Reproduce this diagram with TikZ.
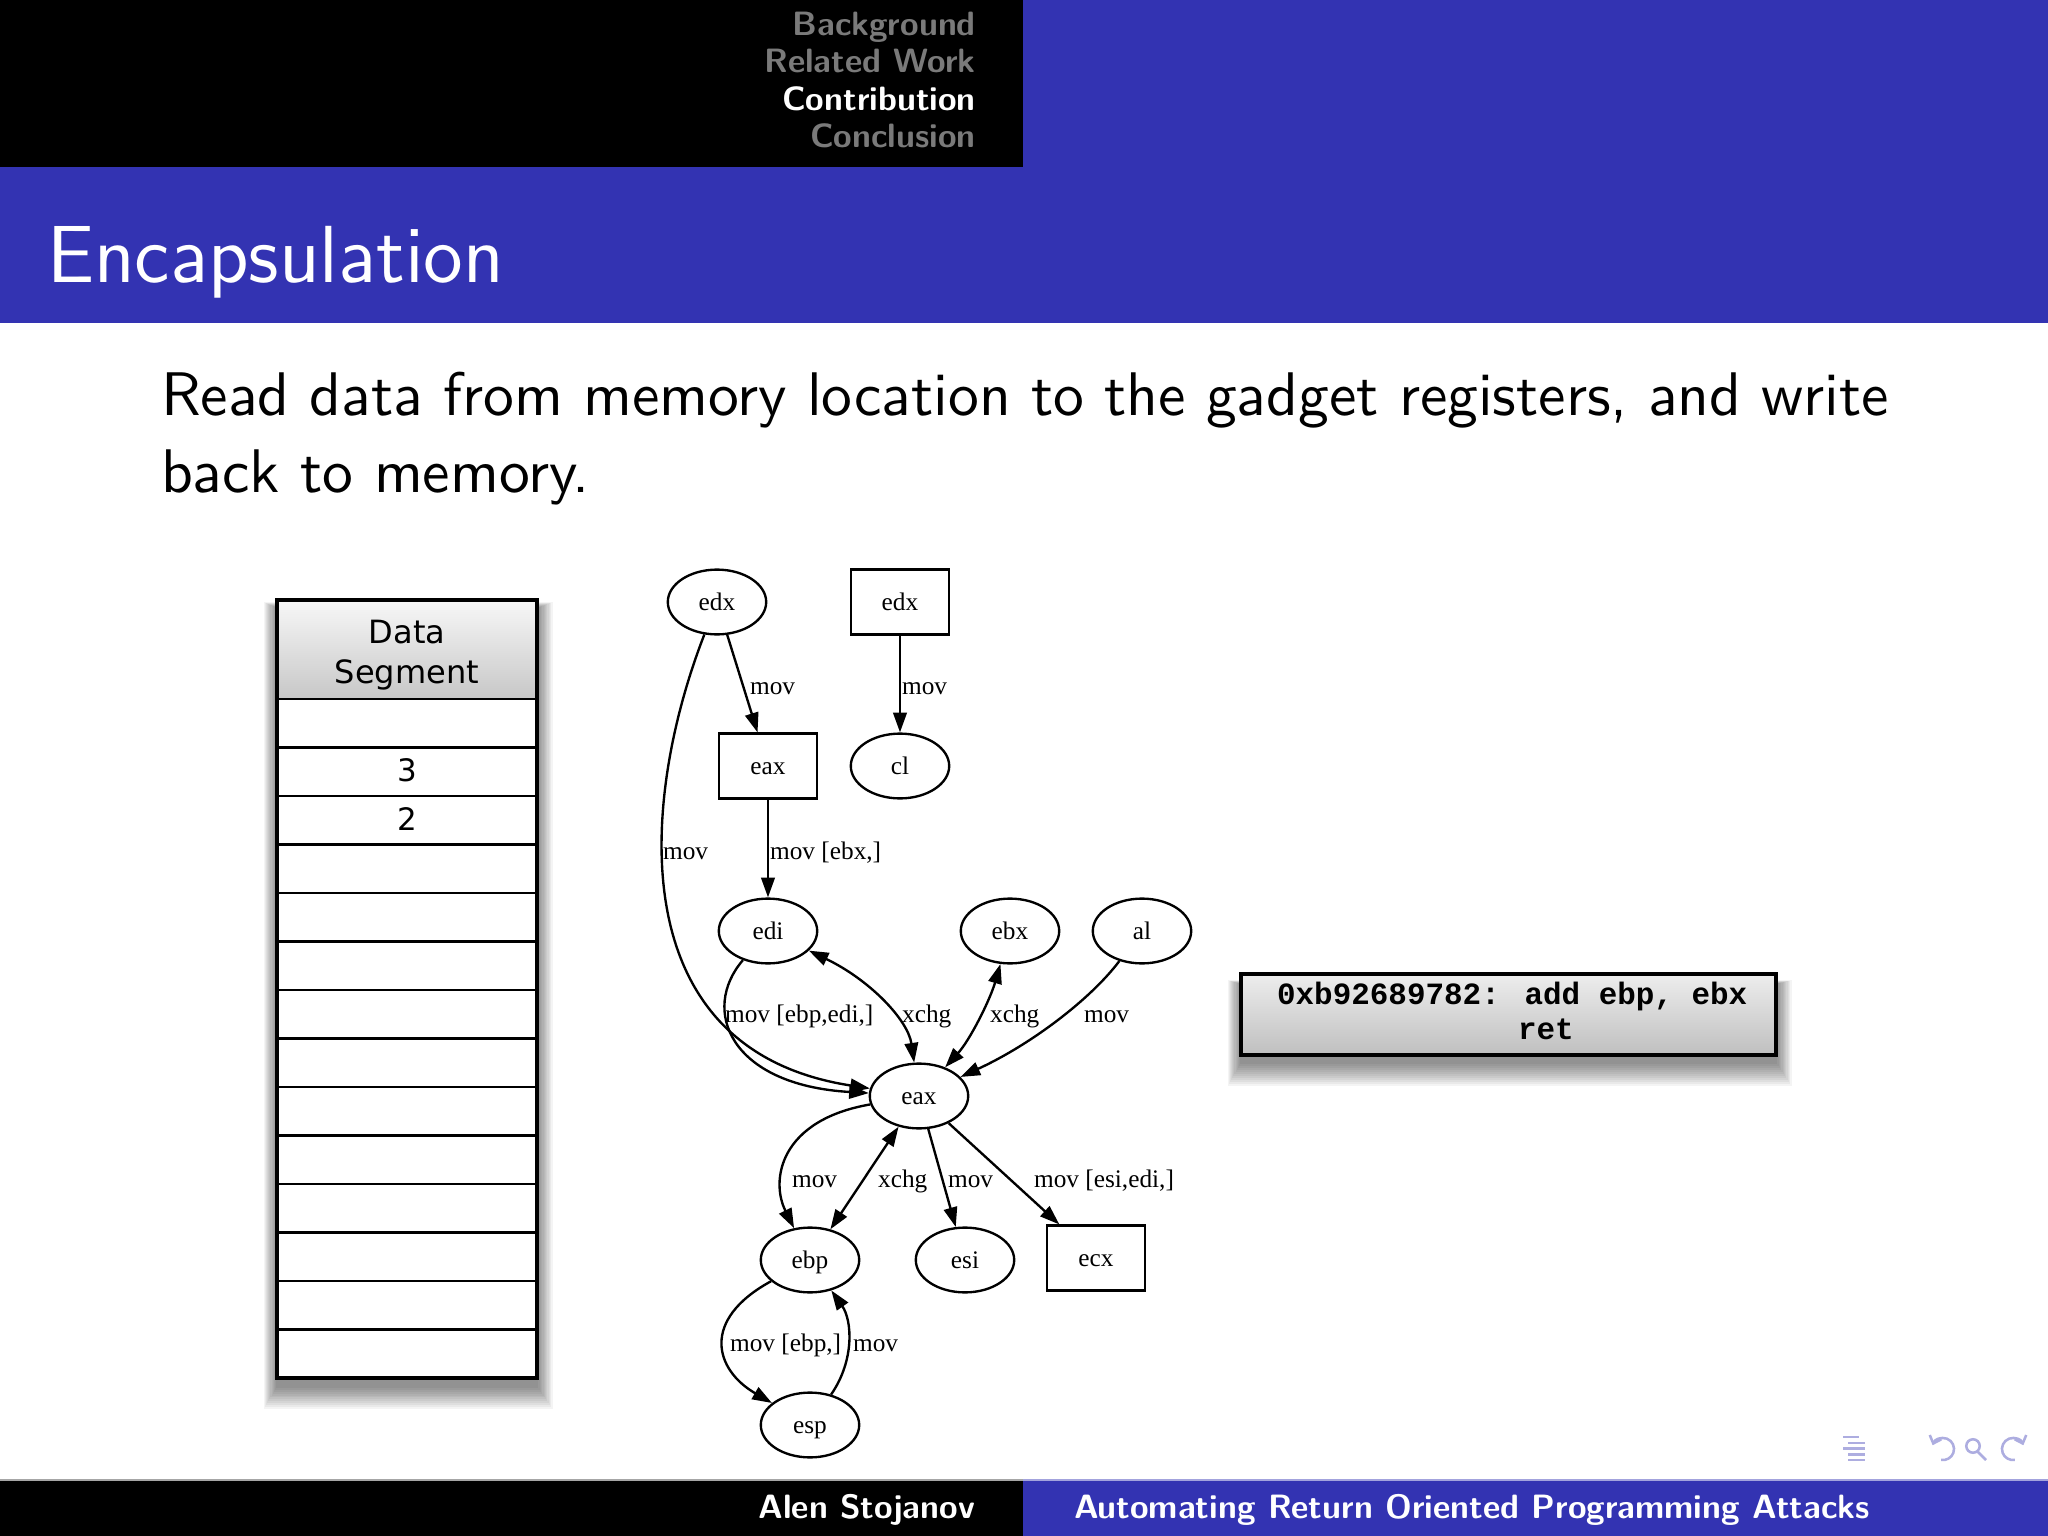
\documentclass[tikz,border=0pt]{standalone}
\usepackage{fontspec}
\usepackage{tikz}
\usetikzlibrary{arrows.meta,shapes.geometric}
\newfontfamily\graphfont{Liberation Serif}
\newfontfamily\segfont{DejaVu Sans}
\newfontfamily\codefont{Liberation Mono}
\definecolor{bmblue}{rgb}{0.2,0.2,0.7}
\newcommand{\gsize}{\fontsize{4.5}{5}\selectfont}

\tikzset{
  reg/.style={ellipse, draw, line width=0.42pt, minimum width=6.15mm, minimum height=4.05mm,
    inner sep=0pt, text height=3.5pt, text depth=0.5pt, font=\graphfont\gsize},
  regbox/.style={rectangle, draw, line width=0.42pt, minimum width=6.15mm, minimum height=4.05mm,
    inner sep=0pt, text height=3.5pt, text depth=0.5pt, font=\graphfont\gsize},
  lbl/.style={anchor=west, inner sep=0pt, text height=3.5pt, text depth=0.6pt, font=\graphfont\gsize},
  edge/.style={line width=0.42pt, -{Triangle[length=3.5pt,width=2.4pt]}},
  xedge/.style={line width=0.42pt, {Triangle[length=3.5pt,width=2.4pt]}-{Triangle[length=3.5pt,width=2.4pt]}},
  secname/.style={inner sep=0pt, font=\fontsize{6}{7}\selectfont\sffamily\bfseries},
  cell/.style={inner sep=0pt, font=\segfont\fontsize{5.5}{6.5}\selectfont},
  codetxt/.style={inner sep=0pt, anchor=base west, font=\codefont\bfseries\fontsize{5.5}{6.2}\selectfont},
  navc/.style={draw=bmblue!40, line width=0.45pt},
}

\begin{document}
\begin{tikzpicture}[x=0.0625mm, y=-0.0625mm]
  \useasboundingbox (0,0) rectangle (2048,1536);
  \fill[white] (0,0) rectangle (2048,1536);

  % headline and frame title
  \fill[bmblue] (0,0) rectangle (2048,323);
  \fill[black] (0,0) rectangle (1023,167);
  \node[secname, anchor=base east, text=white!48!black] (secBg) at (977,35) {Background};
  \node[secname, anchor=base east, text=white!48!black] (secRw) at (977,72.5) {Related Work};
  \node[secname, anchor=base east, text=white] (secCo) at (977,110) {Contribution};
  \node[secname, anchor=base east, text=white!48!black] (secCl) at (977,148) {Conclusion};
  \node[anchor=base west, inner sep=0pt, text=white, font=\fontsize{14.4}{17}\selectfont\sffamily]
    (title) at (46,282) {Encapsulation};

  % body text
  \node[anchor=base west, inner sep=0pt, font=\fontsize{10.95}{13.6}\selectfont\sffamily] (lineA) at (160,415)
    {\makebox[108mm][s]{Read data from memory location to the gadget registers, and write}};
  \node[anchor=base west, inner sep=0pt, font=\fontsize{10.95}{13.6}\selectfont\sffamily] (lineB) at (160,492)
    {back to memory.};

  % data segment: blurred shadow, header, rows
  \foreach \k in {1,...,12}
    \fill[black, opacity=0.045] (277-\k*1.1,608-\k*0.5) rectangle (537+\k*1.3,1386+\k*1.9);
  \shade[top color=gray!6, bottom color=gray!44] (277,600) rectangle (537,699);
  \fill[white] (277,699) rectangle (537,1378);
  \foreach \i in {0,...,13}
    \draw[line width=0.5pt] (277,{699+48.5*\i}) -- (537,{699+48.5*\i});
  \draw[line width=0.85pt] (277,600) rectangle (537,1378);
  \node[cell, align=center, font=\segfont\fontsize{5.7}{7.2}\selectfont] (segHead) at (407,655) {Data\\Segment};
  \node[cell] (cellThree) at (407,770.5) {3};
  \node[cell] (cellTwo) at (407,819) {2};

  % register graph
  \node[reg]    (edxE) at (717,602) {edx};
  \node[regbox] (edxB) at (900,602) {edx};
  \node[regbox] (eaxB) at (768,766) {eax};
  \node[reg]    (cl)   at (900,766) {cl};
  \node[reg]    (edi)  at (768,931) {edi};
  \node[reg]    (ebx)  at (1010,931) {ebx};
  \node[reg]    (al)   at (1142,931) {al};
  \node[reg]    (eaxE) at (919,1096) {eax};
  \node[reg]    (ebp)  at (810,1260) {ebp};
  \node[reg]    (esi)  at (965,1260) {esi};
  \node[regbox] (ecx)  at (1096,1258) {ecx};
  \node[reg]    (esp)  at (810,1425) {esp};

  \draw[edge] (edxE) -- (eaxB);
  \draw[edge] (edxB) -- (cl);
  \draw[edge] (eaxB) -- (edi);
  \draw[edge] (edxE) .. controls (640,800) and (620,1050) .. (eaxE);
  \draw[edge] (edi) .. controls (700,1010) and (730,1085) .. (eaxE);
  \draw[xedge] (edi) .. controls (870,980) and (908,1020) .. (eaxE);
  \draw[xedge] (ebx) .. controls (990,1000) and (970,1040) .. (eaxE);
  \draw[edge] (al) .. controls (1090,1000) and (1030,1045) .. (eaxE);
  \draw[edge] (eaxE) .. controls (780,1120) and (770,1180) .. (ebp);
  \draw[xedge] (ebp) -- (eaxE);
  \draw[edge] (eaxE) -- (esi);
  \draw[edge] (eaxE) -- (ecx);
  \draw[edge] (ebp) .. controls (700,1320) and (715,1370) .. (esp);
  \draw[edge] (esp) .. controls (855,1360) and (852,1320) .. (ebp);

  % edge labels
  \node[lbl] (lOne)   at (749,686)  {mov};
  \node[lbl] (lTwo)   at (901,686)  {mov};
  \node[lbl] (lThree) at (769,851)  {mov [ebx,]};
  \node[lbl] (lFour)  at (662,851)  {mov};
  \node[lbl] (lFive)  at (724,1014) {mov [ebp,edi,]};
  \node[lbl] (lSix)   at (901,1014) {xchg};
  \node[lbl] (lSeven) at (989,1014) {xchg};
  \node[lbl] (lEight) at (1083,1014) {mov};
  \node[lbl] (lNine)  at (791,1179) {mov};
  \node[lbl] (lTen)   at (877,1179) {xchg};
  \node[lbl] (lEleven) at (947,1179) {mov};
  \node[lbl] (lTwelve) at (1033,1179) {mov [esi,edi,]};
  \node[lbl] (lThirteen) at (729,1343) {mov [ebp,]};
  \node[lbl] (lFourteen) at (852,1343) {mov};

  % gadget box
  \foreach \k in {1,...,12}
    \fill[black, opacity=0.045] (1241-\k*1.1,984-\k*0.3) rectangle (1776+\k*1.3,1062+\k*2);
  \shadedraw[top color=gray!14, bottom color=gray!50, line width=0.85pt] (1241,974) rectangle (1776,1055);
  \node[codetxt] (gadgetA) at (1276,1004) {0xb92689782: add ebp, ebx};
  \node[codetxt] (gadgetB) at (1517,1039) {ret};

  % footline
  \fill[black] (0,1480) rectangle (1023,1536);
  \fill[bmblue] (1023,1480) rectangle (2048,1536);
  \draw[gray!70, line width=0.3pt] (0,1480) -- (1023,1480);
  \draw[bmblue!45, line width=0.3pt] (1023,1480) -- (2048,1480);
  \node[secname, anchor=base east, text=white] (author) at (976,1518) {Alen Stojanov};
  \node[secname, anchor=base west, text=white] (talk) at (1073,1518) {Automating Return Oriented Programming Attacks};

  % navigation symbols
  \draw[navc] (1843,1437) -- (1859,1437);
  \draw[navc] (1848,1443) -- (1865,1443);
  \draw[navc] (1843,1448.5) -- (1865,1448.5);
  \draw[navc] (1848,1454.5) -- (1865,1454.5);
  \draw[navc] (1848,1460) -- (1865,1460);
  \draw[navc, {Straight Barb[length=1.2pt,width=2.2pt]}-] (1943,1449) ++(160:0.69mm)
    arc[start angle=160, end angle=-100, radius=0.69mm];
  \draw[navc] (1973,1446) circle[radius=0.42mm];
  \draw[navc] (1977.5,1451.5) -- (1986,1460);
  \draw[navc, {Straight Barb[length=1.2pt,width=2.2pt]}-] (2013,1449) ++(20:0.69mm)
    arc[start angle=20, end angle=280, radius=0.69mm];
\end{tikzpicture}
\end{document}
